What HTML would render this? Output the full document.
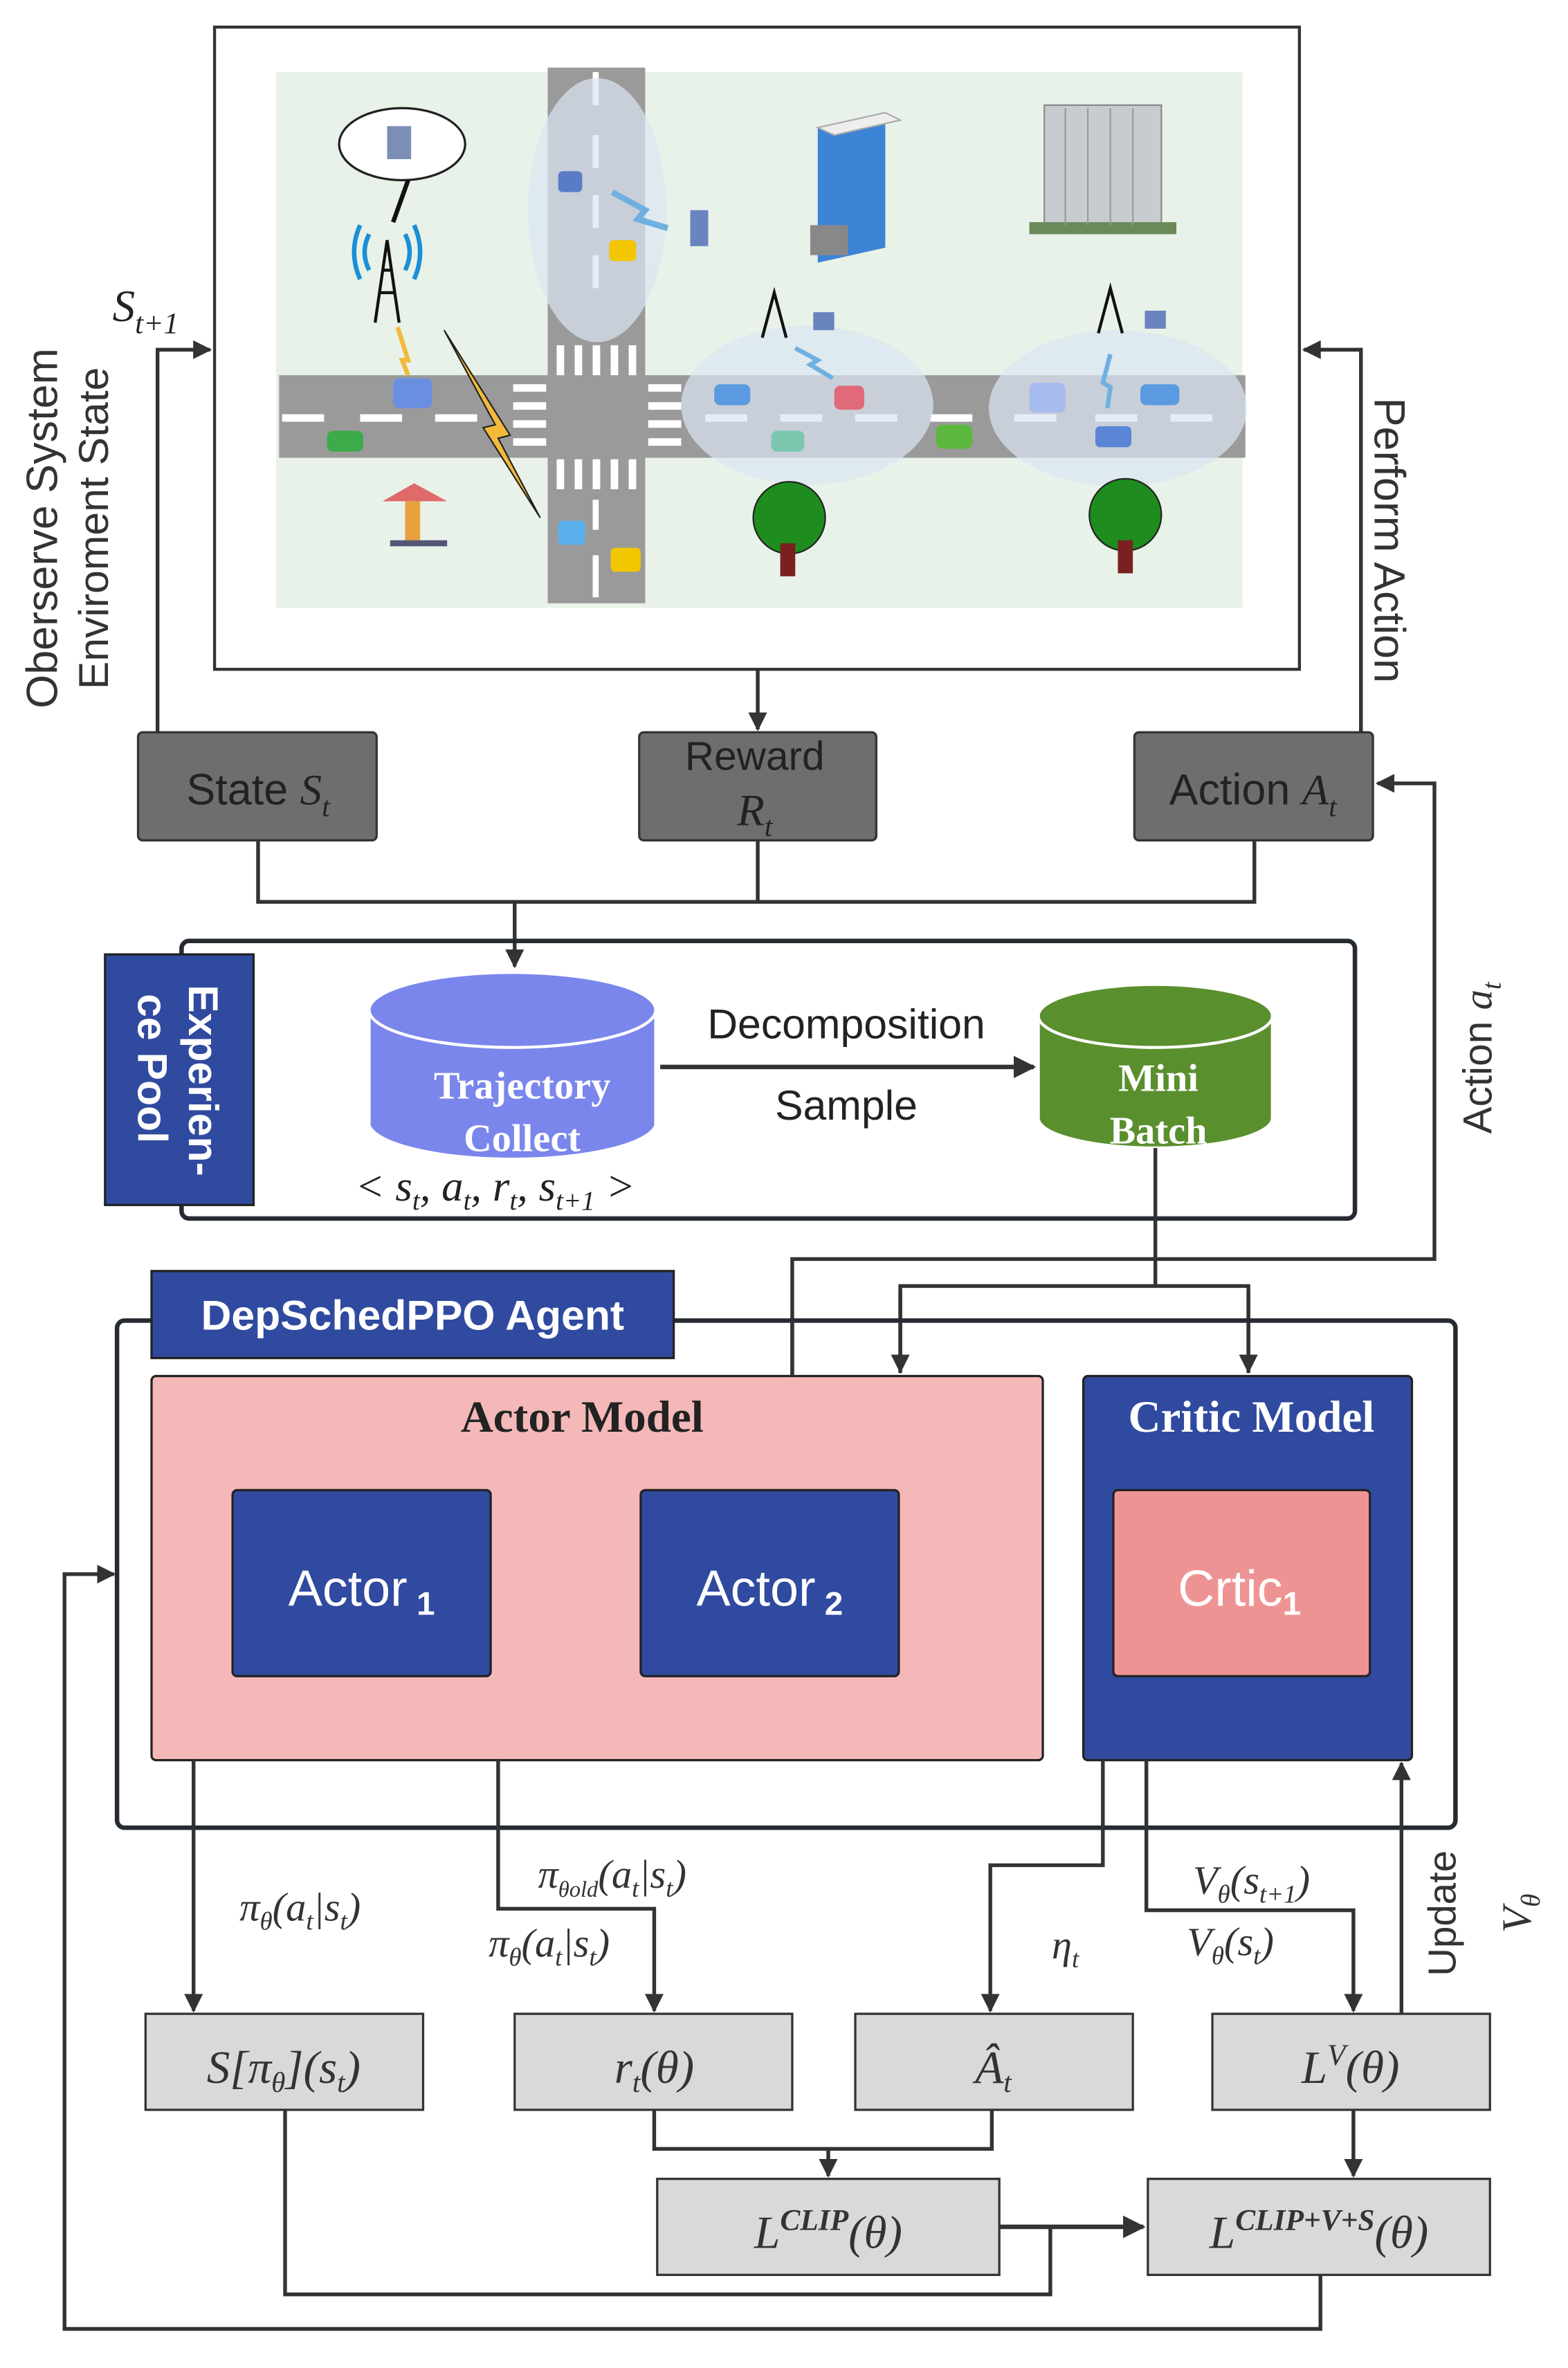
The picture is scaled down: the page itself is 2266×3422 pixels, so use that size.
<!DOCTYPE html>
<html><head><meta charset="utf-8"><style>
html,body{margin:0;padding:0;background:#fff;}
svg{display:block;}
.s{font-family:"Liberation Sans","DejaVu Sans",sans-serif;}
.m{font-family:"Liberation Serif","DejaVu Serif",serif;font-style:italic;}
.r{font-family:"Liberation Serif","DejaVu Serif",serif;}
</style></head><body>
<svg width="2266" height="3422" viewBox="0 0 1045 1578" xmlns="http://www.w3.org/2000/svg">
<defs>
<marker id="a" viewBox="0 0 10 10" refX="9" refY="5" markerWidth="5" markerHeight="5" orient="auto-start-reverse"><path d="M0,0 L10,5 L0,10 z" fill="#333"/></marker>
</defs>
<rect width="1045" height="1578" fill="#fff"/>
<g stroke="#333" stroke-width="2.5" fill="none">
<!-- env box -->
<rect x="143" y="18" width="723" height="428" stroke-width="2"/>
</g>
<!-- scene -->
<rect x="184" y="48" width="644" height="357" fill="#e8f2e8"/>
<rect x="365" y="45" width="65" height="357" fill="#9a9a9a"/>
<rect x="186" y="250" width="644" height="55" fill="#9a9a9a"/>
<g fill="#fff">
<rect x="395" y="48" width="4" height="22"/><rect x="395" y="90" width="4" height="22"/><rect x="395" y="130" width="4" height="22"/><rect x="395" y="170" width="4" height="22"/><rect x="395" y="370" width="4" height="28"/><rect x="395" y="333" width="4" height="20"/>
<rect x="371" y="230" width="5" height="20"/><rect x="383" y="230" width="5" height="20"/><rect x="395" y="230" width="5" height="20"/><rect x="407" y="230" width="5" height="20"/><rect x="419" y="230" width="5" height="20"/>
<rect x="371" y="306" width="5" height="20"/><rect x="383" y="306" width="5" height="20"/><rect x="395" y="306" width="5" height="20"/><rect x="407" y="306" width="5" height="20"/><rect x="419" y="306" width="5" height="20"/>
<rect x="342" y="256" width="22" height="5"/><rect x="342" y="268" width="22" height="5"/><rect x="342" y="280" width="22" height="5"/><rect x="342" y="292" width="22" height="5"/>
<rect x="432" y="256" width="22" height="5"/><rect x="432" y="268" width="22" height="5"/><rect x="432" y="280" width="22" height="5"/><rect x="432" y="292" width="22" height="5"/>
<rect x="188" y="276" width="28" height="5"/><rect x="240" y="276" width="28" height="5"/><rect x="290" y="276" width="28" height="5"/>
<rect x="470" y="276" width="28" height="5"/><rect x="520" y="276" width="28" height="5"/><rect x="570" y="276" width="28" height="5"/><rect x="620" y="276" width="28" height="5"/><rect x="676" y="276" width="28" height="5"/><rect x="730" y="276" width="28" height="5"/><rect x="780" y="276" width="28" height="5"/>
</g>
<g fill="#dbe6f3" opacity="0.7">
<ellipse cx="398" cy="140" rx="46" ry="88"/>
<ellipse cx="538" cy="270" rx="84" ry="53"/>
<ellipse cx="745" cy="272" rx="86" ry="52"/>
</g>
<!-- cloud & towers -->
<ellipse cx="268" cy="96" rx="42" ry="24" fill="#fff" stroke="#222" stroke-width="1.5"/>
<rect x="258" y="84" width="16" height="22" fill="#7c8db8"/>
<line x1="272" y1="120" x2="262" y2="148" stroke="#111" stroke-width="3"/>
<path d="M250,215 L258,160 L266,215 M253,195 L263,195 M255,180 L261,180" stroke="#111" stroke-width="2" fill="none"/>
<path d="M240,150 Q232,168 240,186 M276,150 Q284,168 276,186 M246,156 Q240,168 246,180 M270,156 Q276,168 270,180" stroke="#1a8fd6" stroke-width="3" fill="none"/>
<path d="M296,220 L340,290 L332,292 L360,345 L322,285 L330,283 Z" fill="#f2b93b" stroke="#222" stroke-width="1"/>
<path d="M265,218 L272,240 L268,240 L272,250" stroke="#f2b93b" stroke-width="3" fill="none"/>
<path d="M508,225 L516,195 L524,225" stroke="#111" stroke-width="2" fill="none"/>
<path d="M732,222 L740,192 L748,222" stroke="#111" stroke-width="2" fill="none"/>
<rect x="542" y="208" width="14" height="12" fill="#6a84c0"/>
<rect x="763" y="207" width="14" height="12" fill="#6a84c0"/>
<rect x="460" y="140" width="12" height="24" fill="#6a84c0"/>
<path d="M408,128 L430,140 L425,146 L445,152" stroke="#6fb0e0" stroke-width="4" fill="none"/>
<path d="M530,232 L545,240 L540,243 L555,252" stroke="#6fb0e0" stroke-width="3" fill="none"/>
<path d="M740,236 L735,255 L740,258 L738,272" stroke="#6fb0e0" stroke-width="3" fill="none"/>
<!-- buildings -->
<path d="M545,85 L590,75 L590,165 L545,175 Z" fill="#3c84d6"/>
<path d="M545,85 L590,75 L600,80 L556,90 Z" fill="#eee" stroke="#aaa"/>
<rect x="540" y="150" width="25" height="20" fill="#888"/>
<rect x="696" y="70" width="78" height="82" fill="#c8cbd0" stroke="#888"/>
<rect x="686" y="148" width="98" height="8" fill="#6a8a5a"/>
<g stroke="#999" stroke-width="1"><line x1="710" y1="72" x2="710" y2="150"/><line x1="725" y1="72" x2="725" y2="150"/><line x1="740" y1="72" x2="740" y2="150"/><line x1="755" y1="72" x2="755" y2="150"/></g>
<!-- cars -->
<g>
<rect x="372" y="114" width="16" height="14" rx="3" fill="#5a7bc6"/>
<rect x="406" y="160" width="18" height="14" rx="3" fill="#f2c600"/>
<rect x="262" y="252" width="26" height="20" rx="4" fill="#6a8ee0"/>
<rect x="218" y="287" width="24" height="14" rx="4" fill="#3cab4a"/>
<rect x="476" y="256" width="24" height="14" rx="4" fill="#5b9ae0"/>
<rect x="556" y="257" width="20" height="16" rx="4" fill="#e06a7a"/>
<rect x="514" y="287" width="22" height="14" rx="4" fill="#7cc6b0"/>
<rect x="624" y="283" width="24" height="16" rx="4" fill="#5cb83c"/>
<rect x="686" y="255" width="24" height="20" rx="4" fill="#a8bbef"/>
<rect x="760" y="256" width="26" height="14" rx="4" fill="#5b9ae0"/>
<rect x="730" y="284" width="24" height="14" rx="3" fill="#5b86d6"/>
<rect x="372" y="347" width="18" height="16" rx="3" fill="#5ab0ea"/>
<rect x="407" y="365" width="20" height="16" rx="3" fill="#f2c600"/>
</g>
<!-- kiosk & trees -->
<path d="M255,334 L276,322 L298,334 Z" fill="#e06a6a"/>
<rect x="270" y="334" width="10" height="30" fill="#e8a040"/>
<rect x="260" y="360" width="38" height="4" fill="#557"/>
<circle cx="526" cy="345" r="24" fill="#1e8c1e" stroke="#222"/><rect x="520" y="362" width="10" height="22" fill="#7a2020"/>
<circle cx="750" cy="343" r="24" fill="#1e8c1e" stroke="#222"/><rect x="745" y="360" width="10" height="22" fill="#7a2020"/>

<!-- top loop -->
<g stroke="#333" stroke-width="2.5" fill="none">
<polyline points="105,488 105,233 140,233" marker-end="url(#a)"/>
<polyline points="907,488 907,233 869,233" marker-end="url(#a)"/>
<line x1="505" y1="446" x2="505" y2="486" marker-end="url(#a)"/>
<polyline points="172,560 172,601 836,601 836,560"/>
<line x1="505" y1="560" x2="505" y2="601"/>
<line x1="343" y1="601" x2="343" y2="644" marker-end="url(#a)"/>
</g>
<g stroke="#333" stroke-width="1.5">
<rect x="92" y="488" width="159" height="72" rx="3" fill="#6e6e6e"/>
<rect x="426" y="488" width="158" height="72" rx="3" fill="#6e6e6e"/>
<rect x="756" y="488" width="159" height="72" rx="3" fill="#6e6e6e"/>
</g>
<text x="172" y="536" font-size="29" text-anchor="middle" fill="#222" class="s">State <tspan class="m">S</tspan><tspan class="m" font-size="19" dy="8">t</tspan></text>
<text x="503" y="513" font-size="27" text-anchor="middle" fill="#222" class="s">Reward</text>
<text x="503" y="550" font-size="30" text-anchor="middle" fill="#222" class="m">R<tspan font-size="19" dy="7">t</tspan></text>
<text x="835" y="536" font-size="29" text-anchor="middle" fill="#222" class="s">Action <tspan class="m">A</tspan><tspan class="m" font-size="19" dy="8">t</tspan></text>
<text x="75" y="214" font-size="30" fill="#222" class="m">S<tspan font-size="20" dy="8">t+1</tspan></text>
<text transform="translate(38,352) rotate(-90)" font-size="29" text-anchor="middle" fill="#333" class="s">Oberserve System</text>
<text transform="translate(72,352) rotate(-90)" font-size="28" text-anchor="middle" fill="#333" class="s">Enviroment State</text>
<text transform="translate(916,360) rotate(90)" font-size="29" text-anchor="middle" fill="#333" class="s">Perform Action</text>

<!-- experience pool -->
<rect x="121" y="627" width="782" height="185" rx="5" fill="none" stroke="#262b33" stroke-width="3"/>
<rect x="70" y="636" width="99" height="167" fill="#304a9f" stroke="#222" stroke-width="1.5"/>
<text transform="translate(126,720) rotate(90)" font-size="28" font-weight="bold" text-anchor="middle" fill="#fff" class="s">Experien-</text>
<text transform="translate(92,712) rotate(90)" font-size="28" font-weight="bold" text-anchor="middle" fill="#fff" class="s">ce Pool</text>
<path d="M246,673 L246,750 A96,25 0 0 0 437,750 L437,673" fill="#7b86ec" stroke="#fff" stroke-width="2"/>
<ellipse cx="341.5" cy="673" rx="95.5" ry="25" fill="#7b86ec" stroke="#fff" stroke-width="2"/>
<text x="348" y="732" font-size="26" font-weight="bold" text-anchor="middle" fill="#fff" class="r">Trajectory</text>
<text x="348" y="767" font-size="26" font-weight="bold" text-anchor="middle" fill="#fff" class="r">Collect</text>
<path d="M692,677 L692,745 A78,20 0 0 0 848,745 L848,677" fill="#5a8f2e" stroke="#fff" stroke-width="2"/>
<ellipse cx="770" cy="677" rx="78" ry="21" fill="#5a8f2e" stroke="#fff" stroke-width="2"/>
<text x="772" y="727" font-size="26" font-weight="bold" text-anchor="middle" fill="#fff" class="r">Mini</text>
<text x="772" y="762" font-size="26" font-weight="bold" text-anchor="middle" fill="#fff" class="r">Batch</text>
<line x1="440" y1="711" x2="689" y2="711" stroke="#333" stroke-width="3" marker-end="url(#a)"/>
<text x="564" y="692" font-size="28" text-anchor="middle" fill="#222" class="s">Decomposition</text>
<text x="564" y="746" font-size="28" text-anchor="middle" fill="#222" class="s">Sample</text>
<text x="330" y="800" font-size="29" text-anchor="middle" fill="#222" class="m"><tspan class="r">&lt; </tspan>s<tspan font-size="18" dy="6">t</tspan><tspan dy="-6">, a</tspan><tspan font-size="18" dy="6">t</tspan><tspan dy="-6">, r</tspan><tspan font-size="18" dy="6">t</tspan><tspan dy="-6">, s</tspan><tspan font-size="18" dy="6">t+1</tspan><tspan class="r" dy="-6"> &gt;</tspan></text>

<!-- connectors to agent -->
<g stroke="#333" stroke-width="2.5" fill="none">
<polyline points="528,917 528,839 956,839 956,522 918,522" marker-end="url(#a)"/>
<line x1="770" y1="765" x2="770" y2="857"/>
<polyline points="600,915 600,857 832,857 832,915"/>
</g>
<line x1="600" y1="860" x2="600" y2="914" stroke="#333" stroke-width="2.5" marker-end="url(#a)"/>
<line x1="832" y1="860" x2="832" y2="914" stroke="#333" stroke-width="2.5" marker-end="url(#a)"/>
<text transform="translate(994,705) rotate(-90)" font-size="27" text-anchor="middle" fill="#333" class="s">Action <tspan class="m">a</tspan><tspan class="m" font-size="18" dy="6">t</tspan></text>

<!-- agent -->
<rect x="78" y="880" width="892" height="338" rx="5" fill="none" stroke="#262b33" stroke-width="3"/>
<rect x="101" y="847" width="348" height="58" fill="#304a9f" stroke="#222" stroke-width="1.5"/>
<text x="275" y="886" font-size="28" font-weight="bold" text-anchor="middle" fill="#fff" class="s">DepSchedPPO Agent</text>
<rect x="101" y="917" width="594" height="256" rx="3" fill="#f4b8b8" stroke="#222" stroke-width="1.5"/>
<line x1="528" y1="880" x2="528" y2="917" stroke="#333" stroke-width="2.5"/>
<text x="388" y="954" font-size="30" font-weight="bold" text-anchor="middle" fill="#222" class="r">Actor Model</text>
<rect x="155" y="993" width="172" height="124" rx="3" fill="#304a9f" stroke="#222" stroke-width="1.5"/>
<rect x="427" y="993" width="172" height="124" rx="3" fill="#304a9f" stroke="#222" stroke-width="1.5"/>
<text x="241" y="1070" font-size="34" text-anchor="middle" fill="#fff" class="s">Actor<tspan font-size="22" dy="6" font-weight="bold"> 1</tspan></text>
<text x="513" y="1070" font-size="34" text-anchor="middle" fill="#fff" class="s">Actor<tspan font-size="22" dy="6" font-weight="bold"> 2</tspan></text>
<rect x="722" y="917" width="219" height="256" rx="3" fill="#304a9f" stroke="#222" stroke-width="1.5"/>
<text x="834" y="954" font-size="30" font-weight="bold" text-anchor="middle" fill="#fff" class="r">Critic Model</text>
<rect x="742" y="993" width="171" height="124" rx="3" fill="#ee9393" stroke="#222" stroke-width="1.5"/>
<text x="826" y="1070" font-size="34" text-anchor="middle" fill="#fff" class="s">Crtic<tspan font-size="22" dy="6" font-weight="bold">1</tspan></text>

<!-- lower connectors -->
<g stroke="#333" stroke-width="2.5" fill="none">
<polyline points="880,1516 880,1552 43,1552 43,1049 76,1049" marker-end="url(#a)"/>
<line x1="129" y1="1173" x2="129" y2="1340" marker-end="url(#a)"/>
<polyline points="332,1173 332,1272 436,1272 436,1340" marker-end="url(#a)"/>
<polyline points="735,1173 735,1243 660,1243 660,1340" marker-end="url(#a)"/>
<polyline points="764,1173 764,1273 902,1273 902,1340" marker-end="url(#a)"/>
<line x1="934" y1="1342" x2="934" y2="1175" marker-end="url(#a)"/>
<polyline points="436,1406 436,1432 661,1432 661,1406"/>
<line x1="552" y1="1432" x2="552" y2="1450" marker-end="url(#a)"/>
<line x1="902" y1="1406" x2="902" y2="1450" marker-end="url(#a)"/>
<line x1="666" y1="1484" x2="762" y2="1484" stroke-width="3" marker-end="url(#a)"/>
<polyline points="190,1406 190,1529 700,1529 700,1484"/>
</g>
<g stroke="#333" stroke-width="1.5" fill="#d9d9d9">
<rect x="97" y="1342" width="185" height="64"/>
<rect x="343" y="1342" width="185" height="64"/>
<rect x="570" y="1342" width="185" height="64"/>
<rect x="808" y="1342" width="185" height="64"/>
<rect x="438" y="1452" width="228" height="64"/>
<rect x="765" y="1452" width="228" height="64"/>
</g>
<g fill="#333" class="m">
<text x="189" y="1388" font-size="31" text-anchor="middle">S<tspan class="r">[</tspan>π<tspan font-size="19" dy="6">θ</tspan><tspan class="r" dy="-6">](</tspan>s<tspan font-size="19" dy="6">t</tspan><tspan class="r" dy="-6">)</tspan></text>
<text x="436" y="1388" font-size="31" text-anchor="middle">r<tspan font-size="19" dy="6">t</tspan><tspan class="r" dy="-6">(</tspan>θ<tspan class="r">)</tspan></text>
<text x="662" y="1388" font-size="31" text-anchor="middle">Â<tspan font-size="19" dy="6">t</tspan></text>
<text x="900" y="1388" font-size="31" text-anchor="middle">L<tspan class="r" font-size="20" dy="-12">V</tspan><tspan class="r" dy="12">(</tspan>θ<tspan class="r">)</tspan></text>
<text x="552" y="1498" font-size="31" text-anchor="middle">L<tspan class="r" font-weight="bold" font-size="20" dy="-12">CLIP</tspan><tspan class="r" dy="12">(</tspan>θ<tspan class="r">)</tspan></text>
<text x="879" y="1498" font-size="31" text-anchor="middle">L<tspan class="r" font-weight="bold" font-size="20" dy="-12">CLIP+V+S</tspan><tspan class="r" dy="12">(</tspan>θ<tspan class="r">)</tspan></text>
<text x="200" y="1280" font-size="27" text-anchor="middle">π<tspan font-size="17" dy="6">θ</tspan><tspan class="r" dy="-6">(</tspan>a<tspan font-size="17" dy="6">t</tspan><tspan class="r" dy="-6">|</tspan>s<tspan font-size="17" dy="6">t</tspan><tspan class="r" dy="-6">)</tspan></text>
<text x="408" y="1258" font-size="27" text-anchor="middle">π<tspan font-size="15" dy="6">θold</tspan><tspan class="r" dy="-6">(</tspan>a<tspan font-size="17" dy="6">t</tspan><tspan class="r" dy="-6">|</tspan>s<tspan font-size="17" dy="6">t</tspan><tspan class="r" dy="-6">)</tspan></text>
<text x="366" y="1304" font-size="27" text-anchor="middle">π<tspan font-size="17" dy="6">θ</tspan><tspan class="r" dy="-6">(</tspan>a<tspan font-size="17" dy="6">t</tspan><tspan class="r" dy="-6">|</tspan>s<tspan font-size="17" dy="6">t</tspan><tspan class="r" dy="-6">)</tspan></text>
<text x="710" y="1305" font-size="27" text-anchor="middle">η<tspan font-size="17" dy="6">t</tspan></text>
<text x="834" y="1262" font-size="27" text-anchor="middle">V<tspan font-size="17" dy="6">θ</tspan><tspan class="r" dy="-6">(</tspan>s<tspan font-size="17" dy="6">t+1</tspan><tspan class="r" dy="-6">)</tspan></text>
<text x="820" y="1303" font-size="27" text-anchor="middle">V<tspan font-size="17" dy="6">θ</tspan><tspan class="r" dy="-6">(</tspan>s<tspan font-size="17" dy="6">t</tspan><tspan class="r" dy="-6">)</tspan></text>
</g>
<text transform="translate(970,1275) rotate(-90)" font-size="26" text-anchor="middle" fill="#333" class="s">Update</text>
<text transform="translate(1020,1275) rotate(-90)" font-size="28" text-anchor="middle" fill="#333" class="m">V<tspan font-size="18" dy="6">θ</tspan></text>
</svg>
</body></html>
